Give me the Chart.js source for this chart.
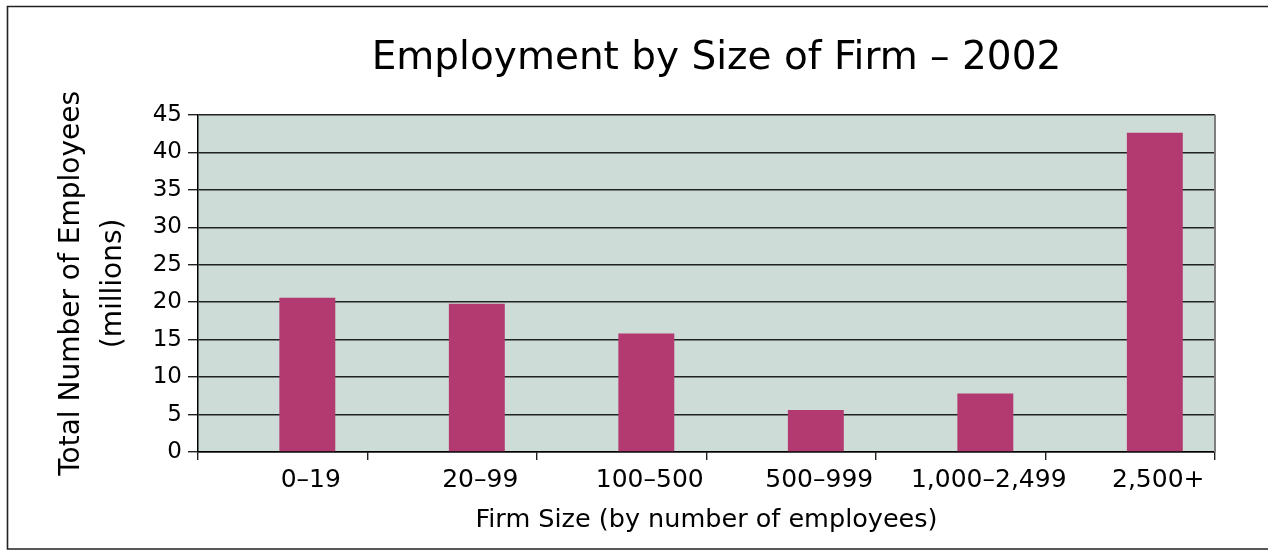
<!DOCTYPE html>
<html>
<head>
<meta charset="utf-8">
<script src="https://cdn.jsdelivr.net/npm/chart.js@4"></script>
<style>
  html, body { margin: 0; padding: 0; background: #fff; }
  #wrap { width: 1268px; height: 550px; }
</style>
</head>
<body>
<div id="wrap"><canvas id="firm-graph"></canvas></div>
<script>
const firmSizes = ['0–19', '20–99', '100–500', '500–999', '1,000–2,499', '2,500+']
const employees = [20.6, 19.8, 15.8, 5.6, 7.8, 42.6]
const yTicks = [0, 5, 10, 15, 20, 25, 30, 35, 40, 45]

const chartTitle = 'Employment by Size of Firm – 2002'
const yTitle = ['Total Number of Employees', '(millions)']
const xTitle = 'Firm Size (by number of employees)'

// bars sit a bit right of the category centre, like the original sheet
const barShift = 0.145

Chart.defaults.font.family = "'DejaVu Sans', sans-serif"
Chart.defaults.color = '#000'

// plot background, grey right edge and the outer frame
const framePlugin = {
    id: 'frame',
    afterLayout(chart) {
        // title in the original sits a little right of the plot centre
        if (chart.titleBlock) {
            chart.titleBlock.left += 10
            chart.titleBlock.right += 10
        }
    },
    beforeDraw(chart) {
        const { ctx, chartArea: a } = chart
        ctx.save()
        ctx.fillStyle = '#cddcd7'
        ctx.fillRect(a.left, a.top, a.right - a.left, a.bottom - a.top)
        ctx.restore()
    },
    afterDraw(chart) {
        const { ctx, chartArea: a, width, height } = chart
        ctx.save()
        ctx.strokeStyle = '#7f7f7f'
        ctx.lineWidth = 2
        ctx.beginPath()
        ctx.moveTo(a.right, a.top)
        ctx.lineTo(a.right, a.bottom)
        ctx.stroke()

        ctx.strokeStyle = '#222'
        ctx.lineWidth = 1.6
        ctx.beginPath()
        ctx.moveTo(width, 6.5)
        ctx.lineTo(7.5, 6.5)
        ctx.lineTo(7.5, height - 1)
        ctx.lineTo(width, height - 1)
        ctx.stroke()
        ctx.restore()
    }
}

const ctx = document.getElementById('firm-graph').getContext('2d')
const firmChart = new Chart(ctx, {
    type: 'bar',
    data: {
        labels: firmSizes,
        datasets: [{
            label: 'Employees',
            data: employees.map((v, i) => ({ x: i, y: v })),
            xAxisID: 'xBar',
            backgroundColor: '#b23a70',
            borderWidth: 0,
            categoryPercentage: 1,
            barPercentage: 0.33,
        }]
    },
    options: {
        responsive: true,
        maintainAspectRatio: false,
        animation: false,
        layout: { padding: { top: 0, left: 50, right: 53, bottom: 0 } },
        plugins: {
            legend: { display: false },
            tooltip: { enabled: false },
            title: {
                display: true,
                text: chartTitle,
                fullSize: false,
                color: '#000',
                font: { size: 39, weight: 'normal', lineHeight: 1.2 },
                padding: { top: 35, bottom: 33 },
            }
        },
        scales: {
            x: {
                type: 'category',
                offset: true,
                grid: {
                    offset: true,
                    drawOnChartArea: false,
                    color: '#222',
                    lineWidth: 1.4,
                    tickLength: 8,
                },
                border: { color: '#000', width: 1.5 },
                ticks: {
                    font: { size: 25 },
                    padding: 5,
                    labelOffset: 28,
                    maxRotation: 0,
                    autoSkip: false,
                },
                title: {
                    display: true,
                    text: xTitle,
                    font: { size: 25.5 },
                    padding: { top: 0, bottom: 14 },
                },
                afterFit(s) { s.height = 98 },
            },
            xBar: {
                type: 'linear',
                display: false,
                offset: false,
                min: -0.5 - barShift,
                max: firmSizes.length - 0.5 - barShift,
                ticks: { stepSize: 1, includeBounds: false },
            },
            y: {
                min: 0,
                max: 45,
                afterBuildTicks(s) { s.ticks = yTicks.map(v => ({ value: v })) },
                grid: {
                    color: '#222',
                    lineWidth: 1.4,
                    tickLength: 10,
                },
                border: { color: '#000', width: 1.5 },
                ticks: {
                    font: { size: 23 },
                    padding: 6,
                },
                title: {
                    display: true,
                    text: yTitle,
                    font: { size: 28, lineHeight: 1.52 },
                    padding: { top: 0, bottom: 0 },
                },
                afterFit(s) { s.width = 148 },
            }
        }
    },
    plugins: [framePlugin]
})
</script>
</body>
</html>
